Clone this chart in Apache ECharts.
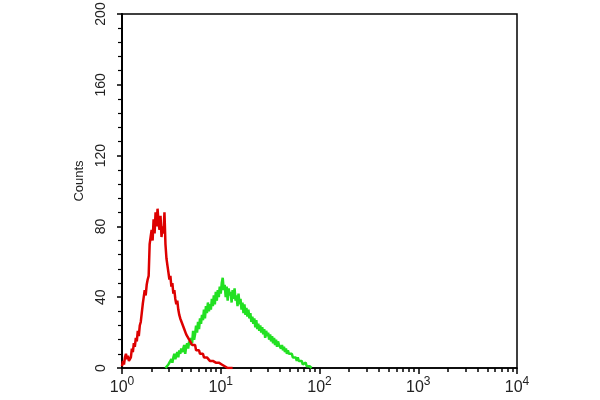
<!DOCTYPE html>
<html>
<head>
<meta charset="utf-8">
<script src="https://cdn.jsdelivr.net/npm/echarts@6/dist/echarts.min.js"></script>
<style>html,body{margin:0;padding:0;background:#fff}#c{width:600px;height:400px}</style>
</head>
<body>
<div id="c"></div>
<script>
// Histogram channels are on a log10 scale (log10 of fluorescence intensity)
const binStep = 0.01;
const redStart = 0.00;
const redCounts = [
  1,4,2,6,8,5,7,4,3,6,
  11,9,14,12,17,15,21,18,24,26,
  31,36,40,44,41,47,50,52,70,74,
  78,72,84,76,88,80,90,82,78,86,
  74,80,76,88,70,62,58,54,50,52,
  46,48,42,44,39,36,38,33,30,28,
  29,25,26,22,21,19,20,17,18,15,
  16,13,14,12,13,10,11,9,10,8,
  9,7,8,6,7,5,6,5,6,4,
  5,4,4,3,4,3,3,2,3,2,
  2,2,1,2,1,1,1,0,1,0,
  0,0,0
];
const greenStart = 0.44;
const greenCounts = [
  0,1,0,2,3,2,
  5,3,6,8,5,7,9,6,10,8,
  11,9,10,13,8,12,14,11,15,13,
  17,14,21,16,19,24,20,26,22,28,
  25,30,27,33,28,35,31,37,32,36,
  33,39,35,41,36,43,38,44,40,46,
  42,48,51,44,47,40,46,38,45,41,
  43,37,44,39,45,38,41,35,42,36,
  39,33,37,31,36,30,34,29,33,28,
  31,26,29,25,28,23,27,22,25,21,
  24,20,23,19,22,17,21,18,20,16,
  19,15,18,14,17,13,16,12,15,13,
  14,11,13,10,12,9,11,8,10,8,
  9,7,8,6,7,5,6,4,6,4,
  5,3,4,2,3,2,3,1,2,1,
  1,0,0
];
const decades = [0, 1, 2, 3, 4];
const minorMultipliers = [2, 3, 4, 5, 6, 7, 8, 9];
const yTicks = [0, 40, 80, 120, 160, 200];

function toPairs(start, counts) {
  return counts.map((c, i) => [+(start + i * binStep).toFixed(3), c]);
}
const minorTickValues = [];
decades.slice(0, -1).forEach(d => minorMultipliers.forEach(m => minorTickValues.push(d + Math.log10(m))));

const chart = echarts.init(document.getElementById('c'), null, { renderer: 'canvas' });
const font = 'Liberation Sans, Arial, sans-serif';
chart.setOption({
  animation: false,
  backgroundColor: '#fff',
  grid: { left: 122, right: 83, top: 14, bottom: 32, show: true, borderColor: '#000', borderWidth: 1.5, outerBoundsMode: 'none' },
  xAxis: [
    {
      type: 'value', min: decades[0], max: decades[decades.length - 1], interval: 1,
      axisLine: { show: true, lineStyle: { color: '#000', width: 1.5 } },
      axisTick: { show: true, inside: false, length: 6, lineStyle: { color: '#000', width: 1.5 } },
      splitLine: { show: false },
      axisLabel: {
        margin: 12,
        formatter: v => '{b|10}{s|' + v + '}',
        rich: {
          b: { fontFamily: font, fontSize: 16, color: '#222', lineHeight: 16, verticalAlign: 'bottom' },
          s: { fontFamily: font, fontSize: 12, color: '#222', lineHeight: 12, verticalAlign: 'bottom', padding: [0, 0, 8, 0] }
        }
      }
    },
    {
      type: 'value', min: decades[0], max: decades[decades.length - 1], position: 'bottom',
      axisLine: { show: false },
      axisTick: { show: true, inside: false, length: 4, customValues: minorTickValues, lineStyle: { color: '#000', width: 1.5 } },
      axisLabel: { show: false },
      splitLine: { show: false }
    }
  ],
  yAxis: {
    type: 'value', min: yTicks[0], max: yTicks[yTicks.length - 1], interval: 40,
    name: 'Counts', nameLocation: 'middle', nameGap: 35, nameRotate: 90,
    nameTextStyle: { fontFamily: font, fontSize: 13, color: '#222', padding: [0, 0, 0, 20] },
    axisLine: { show: true, lineStyle: { color: '#000', width: 2 } },
    axisTick: { show: true, length: 5, lineStyle: { color: '#000', width: 1.5 } },
    minorTick: { show: true, splitNumber: 5, length: 4, lineStyle: { color: '#000', width: 1.2 } },
    splitLine: { show: false },
    axisLabel: { rotate: 90, margin: 14, fontFamily: font, fontSize: 14, color: '#222' }
  },
  series: [
    {
      type: 'line', name: 'green', xAxisIndex: 0, data: toPairs(greenStart, greenCounts),
      showSymbol: false, lineStyle: { color: '#22e022', width: 2.5 }, z: 2
    },
    {
      type: 'line', name: 'red', xAxisIndex: 0, data: toPairs(redStart, redCounts),
      showSymbol: false, lineStyle: { color: '#dd0000', width: 2.5 }, z: 3
    }
  ]
});
</script>
</body>
</html>
